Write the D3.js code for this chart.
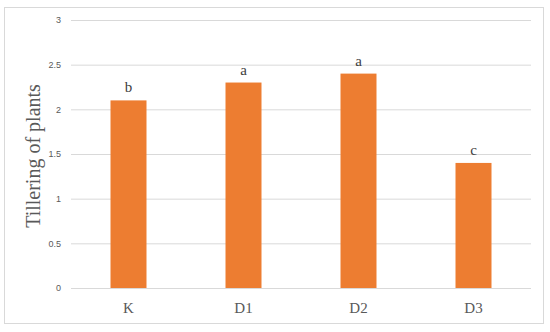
<!DOCTYPE html>
<html>
<head>
<meta charset="utf-8">
<script src="https://cdn.jsdelivr.net/npm/d3@7"></script>
<style>
  body { margin: 0; background: #fff; }
</style>
</head>
<body>
<div id="vis"></div>
<script>
// data
const categories = ["K", "D1", "D2", "D3"];
const values = [2.1, 2.3, 2.4, 1.4];
const letters = ["b", "a", "a", "c"];
const yTicks = [0, 0.5, 1, 1.5, 2, 2.5, 3];

const width = 550;
const height = 332;

const svg = d3.select("#vis")
    .append("svg")
    .attr("width", width)
    .attr("height", height);

svg.append("rect")
    .attr("width", width)
    .attr("height", height)
    .attr("fill", "#fff");

// outer chart border
svg.append("rect")
    .attr("x", 4.5)
    .attr("y", 7.5)
    .attr("width", 539)
    .attr("height", 316)
    .attr("fill", "none")
    .attr("stroke", "#d9d9d9");

const margin = {left: 71, right: 19, top: 20, bottom: 44};

const x = d3.scaleBand()
    .domain(categories)
    .range([margin.left, width - margin.right])
    .paddingInner(0.687)
    .paddingOuter(0.3435);

const y = d3.scaleLinear()
    .domain([0, 3])
    .range([height - margin.bottom, margin.top]);

// gridlines
const yAxis = d3.axisLeft(y)
    .tickValues(yTicks)
    .tickSize(-(width - margin.left - margin.right))
    .tickPadding(10)
    .tickFormat(d3.format(""));

const gy = svg.append("g")
    .attr("transform", `translate(${margin.left},0)`)
    .call(yAxis);

gy.select(".domain").remove();
gy.selectAll(".tick line")
    .attr("stroke", "#d9d9d9")
    .attr("stroke-width", 1);
gy.selectAll(".tick text")
    .attr("fill", "#595959")
    .style("font-family", "'Liberation Sans', Arial, sans-serif")
    .style("font-size", "9px");

// bars
svg.append("g")
    .selectAll("rect")
    .data(values)
    .enter()
    .append("rect")
    .attr("x", (d, i) => x(categories[i]))
    .attr("y", d => y(d))
    .attr("width", x.bandwidth())
    .attr("height", d => y(0) - y(d))
    .attr("fill", "#ed7d31");

// significance letters
svg.append("g")
    .selectAll("text")
    .data(values)
    .enter()
    .append("text")
    .attr("x", (d, i) => x(categories[i]) + x.bandwidth() / 2)
    .attr("y", d => y(d) - 8)
    .attr("text-anchor", "middle")
    .style("font-family", "'Liberation Serif', 'Times New Roman', serif")
    .style("font-size", "15px")
    .attr("fill", "#404040")
    .text((d, i) => letters[i]);

// category labels
svg.append("g")
    .selectAll("text")
    .data(categories)
    .enter()
    .append("text")
    .attr("x", d => x(d) + x.bandwidth() / 2)
    .attr("y", y(0) + 25)
    .attr("text-anchor", "middle")
    .style("font-family", "'Liberation Serif', 'Times New Roman', serif")
    .style("font-size", "15px")
    .attr("fill", "#595959")
    .text(d => d);

// y title
svg.append("text")
    .attr("transform", `translate(40,${(y(0) + y(3)) / 2 + 2}) rotate(-90)`)
    .attr("text-anchor", "middle")
    .style("font-family", "'Liberation Serif', 'Times New Roman', serif")
    .style("font-size", "20px")
    .attr("fill", "#595959")
    .text("Tillering of plants");
</script>
</body>
</html>
